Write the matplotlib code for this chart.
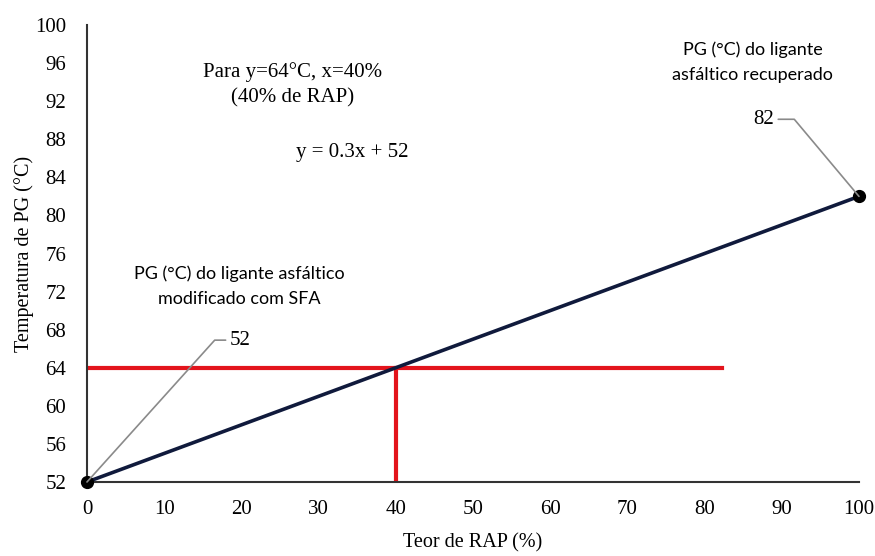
import matplotlib
matplotlib.use("Agg")
import matplotlib.pyplot as plt

# linear blend law between the two binder PG values
rap = [0, 100]
pg = [52, 82]
target_pg = 64
target_rap = 40
red_end = 82.3

xticks = list(range(0, 101, 10))
yticks = list(range(52, 101, 4))

serif = "Liberation Serif"
sans = "Lato"

fig = plt.figure(figsize=(8.75, 5.56), dpi=100)
ax = fig.add_axes([0.0994, 0.1331, 0.8823, 0.8219])

ax.plot(rap, pg, color="#101a3c", lw=2.6, zorder=3, clip_on=False,
        marker="o", markersize=8.5, markerfacecolor="black", markeredgecolor="black")

ax.plot([-0.6, red_end], [target_pg, target_pg], color="#e3141c", lw=3, zorder=2)
ax.plot([target_rap, target_rap], [52, target_pg], color="#e3141c", lw=3, zorder=2)

ax.set_xlim(0, 100)
ax.set_ylim(52, 100)
ax.set_xticks(xticks)
ax.set_yticks(yticks)
ax.tick_params(length=0, labelsize=15, pad=13)
ax.tick_params(axis="y", pad=15)
for lab in ax.get_xticklabels() + ax.get_yticklabels():
    lab.set_fontfamily(serif)
for s in ["top", "right"]:
    ax.spines[s].set_visible(False)
for s in ["left", "bottom"]:
    ax.spines[s].set_color("#333333")
    ax.spines[s].set_linewidth(1.5)

ax.set_xlabel("Teor de RAP (%)", fontfamily=serif, fontsize=14.5, labelpad=10)
ax.set_ylabel("Temperatura de PG (°C)", fontfamily=serif, fontsize=14.5, labelpad=1)

ax.text(26.6, 93.75, "Para y=64°C, x=40%\n(40% de RAP)", fontfamily=serif,
        fontsize=15, ha="center", va="center", linespacing=1.45)
ax.text(34.35, 86.6, "y = 0.3x + 52", fontfamily=serif, fontsize=15,
        ha="center", va="center")
ax.text(19.7, 72.6, "PG (°C) do ligante asfáltico\nmodificado com SFA", fontfamily=sans,
        fontsize=13, ha="center", va="center", linespacing=1.7)
ax.text(86.2, 96.1, "PG (°C) do ligante\nasfáltico recuperado", fontfamily=sans,
        fontsize=13, ha="center", va="center", linespacing=1.7)

leader = dict(arrowstyle="-", color="#8a8a8a", lw=1.2, shrinkA=1, shrinkB=0)
ax.annotate("52", xy=(rap[0], pg[0]), xytext=(18.5, 66.9), fontfamily=serif, fontsize=15,
            ha="left", va="center",
            arrowprops=dict(leader, relpos=(0, 0.5),
                            connectionstyle="angle,angleA=0,angleB=48,rad=0"))
ax.annotate("82", xy=(rap[1], pg[1]), xytext=(89.0, 90.1), fontfamily=serif, fontsize=15,
            ha="right", va="center",
            arrowprops=dict(leader, relpos=(1, 0.5),
                            connectionstyle="angle,angleA=0,angleB=130,rad=0"))

fig.savefig("out.png", dpi=100)
